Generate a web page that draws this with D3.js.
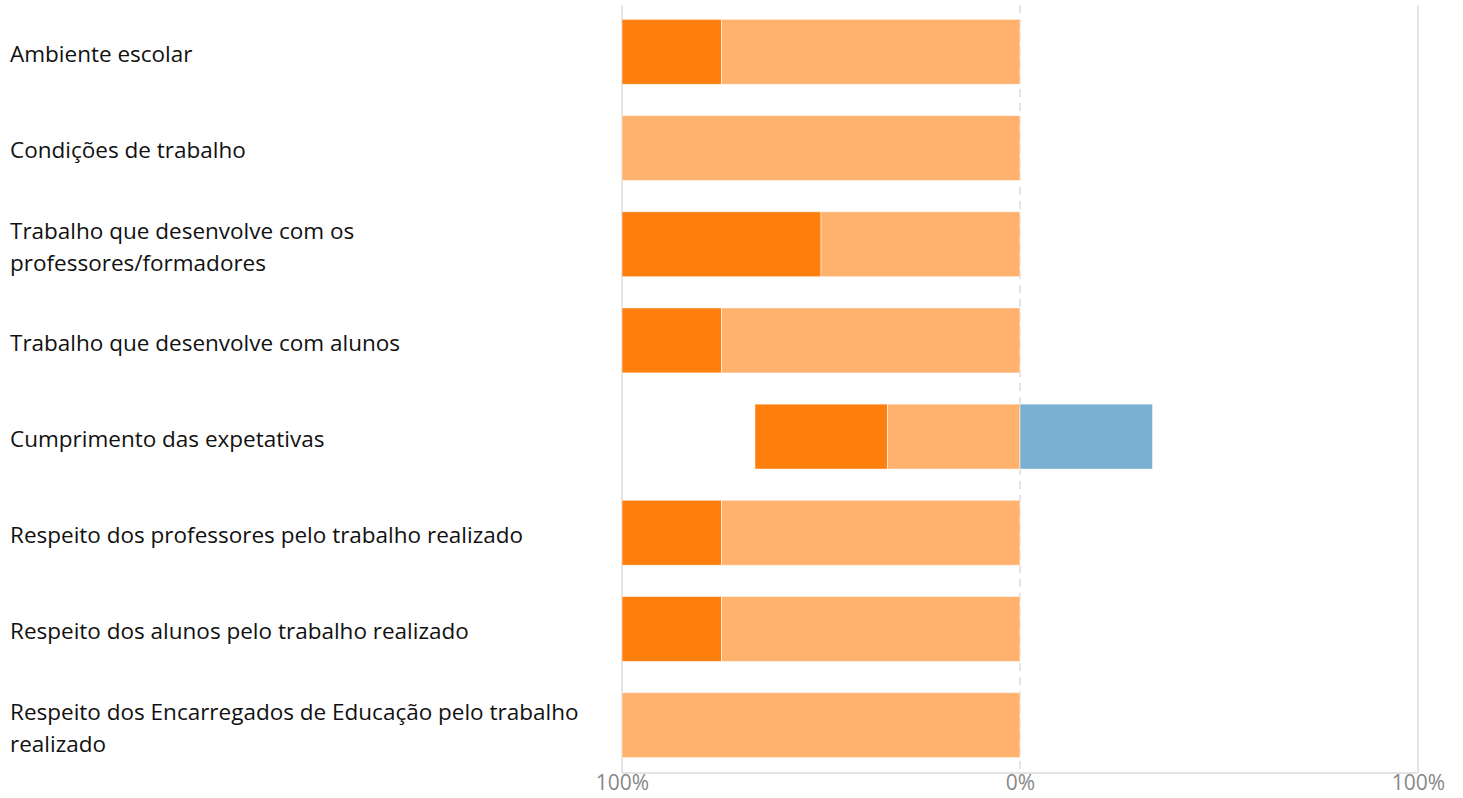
<!DOCTYPE html>
<html><head><meta charset="utf-8">
<script src="https://cdn.jsdelivr.net/npm/d3@7"></script>
<style>body{margin:0;background:#fff}svg{display:block}</style>
</head><body>
<svg id="c" width="1463" height="798"></svg>
<script>
const categories = [
  ["Ambiente escolar"],
  ["Condições de trabalho"],
  ["Trabalho que desenvolve com os","professores/formadores"],
  ["Trabalho que desenvolve com alunos"],
  ["Cumprimento das expetativas"],
  ["Respeito dos professores pelo trabalho realizado"],
  ["Respeito dos alunos pelo trabalho realizado"],
  ["Respeito dos Encarregados de Educação pelo trabalho","realizado"]
];
// negative side (far -> near), positive side
const strongNeg = [25, 0, 50, 25, 33.3, 25, 25, 0];
const weakNeg   = [75, 100, 50, 75, 33.3, 75, 75, 100];
const weakPos   = [0, 0, 0, 0, 33.3, 0, 0, 0];
const tickValues = [-100, 0, 100];
const tickLabels = ["100%", "0%", "100%"];
const colors = {strongNeg:"#ff7f0e", weakNeg:"#ffb26e", weakPos:"#7aafd1"};

const svg = d3.select("#c");
const x = d3.scaleLinear().domain([-100,100]).range([622,1418]);
const y = d3.scaleBand().domain(d3.range(categories.length)).range([4,773]).paddingInner(0.325).paddingOuter(0.16);

// grid
svg.append("g").selectAll("line").data(tickValues).join("line")
  .attr("x1",d=>x(d)).attr("x2",d=>x(d)).attr("y1",5).attr("y2",773)
  .attr("stroke","#e4e4e4").attr("stroke-width",2)
  .attr("stroke-dasharray",d=>d===0?"8,6":null);
svg.append("line").attr("x1",x(-100)).attr("x2",x(100)).attr("y1",773).attr("y2",773)
  .attr("stroke","#e4e4e4").attr("stroke-width",2);

const segs = [];
categories.forEach((c,i)=>{
  const a = strongNeg[i], b = weakNeg[i], p = weakPos[i];
  if(a>0) segs.push({i, x0:-(a+b), x1:-b, c:colors.strongNeg});
  if(b>0) segs.push({i, x0:-b, x1:0, c:colors.weakNeg});
  if(p>0) segs.push({i, x0:0, x1:p, c:colors.weakPos});
});
svg.append("g").selectAll("rect").data(segs).join("rect")
  .attr("x",d=>x(d.x0)).attr("width",d=>x(d.x1)-x(d.x0))
  .attr("y",d=>y(d.i)).attr("height",y.bandwidth())
  .attr("fill",d=>d.c).attr("stroke","#fff").attr("stroke-opacity",0.5).attr("stroke-width",1);

// category labels
const lg = svg.append("g").attr("font-family","'Open Sans', 'Noto Sans', sans-serif").attr("font-size",22.5).attr("fill","#111");
categories.forEach((lines,i)=>{
  const cy = y(i)+y.bandwidth()/2 + 2.5;
  const lh = 32;
  const t = lg.append("text").attr("x",10).attr("y",cy - (lines.length-1)*lh/2);
  lines.forEach((s,k)=>t.append("tspan").attr("x",10).attr("dy",k===0?"0.35em":lh).text(s));
});

// axis labels
const xa = d3.axisBottom(x).tickValues(tickValues).tickFormat((d,i)=>tickLabels[i]).tickSize(0).tickPadding(2);
const g = svg.append("g").attr("transform","translate(0,773)").call(xa);
g.select(".domain").remove();
g.selectAll("text").attr("font-family","'Open Sans', 'Noto Sans', sans-serif").attr("font-size",21).attr("fill","#888");
</script>
</body></html>
